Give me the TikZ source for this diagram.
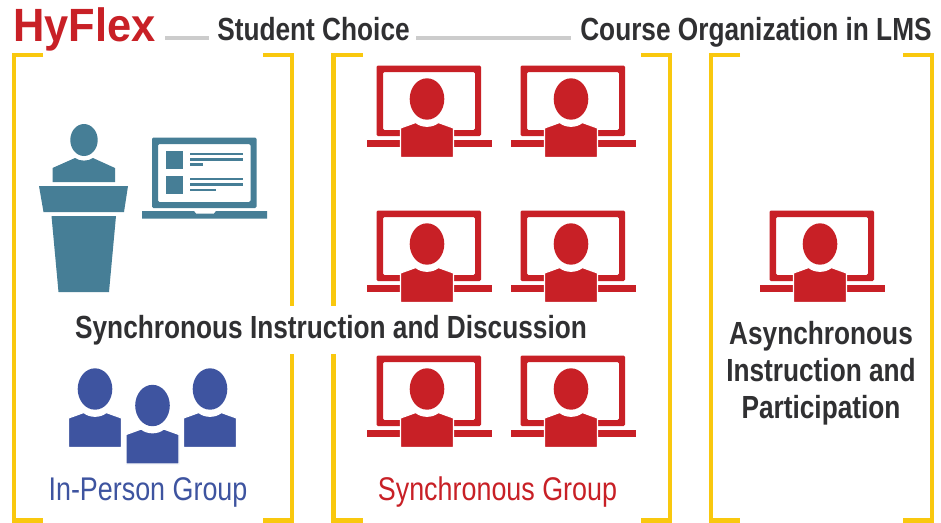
\documentclass[tikz,border=0pt]{standalone}
\usepackage{fontspec}
\setmainfont{Liberation Sans}[FakeStretch=0.82]
\newfontfamily\logofont{Liberation Sans}[FakeStretch=0.93]
\usepackage{tikz}
\usetikzlibrary{
  calc
}
\definecolor{hyred}{RGB}{200,32,38}
\definecolor{hyyellow}{RGB}{249,200,14}
\definecolor{hyteal}{RGB}{70,126,150}
\definecolor{hyblue}{RGB}{62,84,160}
\definecolor{hygrey}{RGB}{204,204,204}
\definecolor{hydark}{RGB}{48,48,50}
\tikzset{
  x=0.75pt, y=-0.75pt,
  bracket/.style={draw=hyyellow,line width=3.2pt,line cap=butt},
  rule/.style={draw=hygrey,line width=3.4pt},
  heading/.style={text=hydark,font=\bfseries\fontsize{24}{26}\selectfont,inner sep=0pt},
  caption/.style={text=hydark,font=\bfseries\fontsize{24}{27.75}\selectfont,inner sep=0pt,align=center},
  group/.style={font=\fontsize{24.6}{26}\selectfont,inner sep=0pt},
  pics/bust/.style={code={
    \fill[#1] (0,0) ellipse (17.3 and 20.7);
    \filldraw[fill=#1,draw=white,line width=0.9pt] (-26.5,58.5) -- (-26.5,29) -- (-11.3,23.5) .. controls (-5,28.5) and (5,28.5) .. (11.3,23.5) -- (26.5,29) -- (26.5,58.5) -- cycle;
  }},
  pics/monitor/.style={code={
    \fill[hyred,even odd rule,rounded corners=1pt] (-50.5,-33.5) rectangle (54,37) (-44,-27) rectangle (48,31);
    \fill[hyred] (-60.5,40.5) rectangle (64.5,47.5);
    \pic {bust=hyred};
  }},
}
\begin{document}
\begin{tikzpicture}
\useasboundingbox (0,0) rectangle (941,522);
\fill[white] (0,0) rectangle (941,522);
% yellow brackets
\foreach \xl/\xr in {14/292,333.5/670,711/932}
{
  \draw[bracket] (\xl+29,55) -- (\xl,55) -- (\xl,520.5) -- (\xl+29,520.5);
  \draw[bracket] (\xr-29,55) -- (\xr,55) -- (\xr,520.5) -- (\xr-29,520.5);
}
% title row
\node[anchor=base west,inner sep=0pt,text=hyred,font=\logofont\bfseries\fontsize{35}{36}\selectfont] (hyflex) at (13,41) {HyFlex};
\draw[rule] (165,38) -- (209,38);
\node[heading,anchor=base west] (choice) at (217,40) {Student Choice};
\draw[rule] (416,38) -- (571,38);
\node[heading,anchor=base west] (lms) at (580,40) {Course Organization in LMS};
% presenter and laptop
\fill[hyteal] (84,140) ellipse (13.7 and 16);
\fill[hyteal] (52.5,182) -- (52.5,168) -- (75,158) .. controls (80,161.5) and (88,161.5) .. (93,158) -- (115,168) -- (115,182) -- cycle;
\fill[hyteal] (39,186) -- (128,186) -- (124,212) -- (43.5,212) -- cycle;
\fill[hyteal] (51.5,216) -- (116,216) -- (109,292) -- (58.5,292) -- cycle;
\fill[hyteal,even odd rule,rounded corners=1pt] (152,137.5) rectangle (256.5,208) (158,144) rectangle (250.5,202);
\fill[hyteal] (142,211) -- (194,211) -- (196,213.5) -- (214,213.5) -- (216,211) -- (267,211) -- (267,218.5) -- (142,218.5) -- cycle;
\foreach \y in {151,176}
{
  \fill[hyteal] (165.5,\y) rectangle (183,\y+18);
  \fill[hyteal] (189.5,\y+1.5) rectangle (243,\y+4);
  \fill[hyteal] (189.5,\y+7) rectangle (243,\y+9.5);
}
\fill[hyteal] (189.5,163) rectangle (203,165.5);
\fill[hyteal] (189.5,188.5) rectangle (216,191);
% monitors
\foreach \mx in {427,571}
  \foreach \my in {99,244,389}
    \pic at (\mx,\my) {monitor};
\pic at (820,244) {monitor};
% audience
\pic at (95,389) {bust=hyblue};
\pic at (152.5,405.5) {bust=hyblue};
\pic at (210,389) {bust=hyblue};
% labels
\node[caption,fill=white,inner xsep=3pt,minimum height=36pt] (sync) at (331,330) {Synchronous Instruction and Discussion};
\node[caption] (async) at (821,373) {Asynchronous\\Instruction and\\Participation};
\node[group,text=hyblue] (inperson) at (148,492) {In-Person Group};
\node[group,text=hyred] (syncgroup) at (497.5,492) {Synchronous Group};
\end{tikzpicture}
\end{document}
